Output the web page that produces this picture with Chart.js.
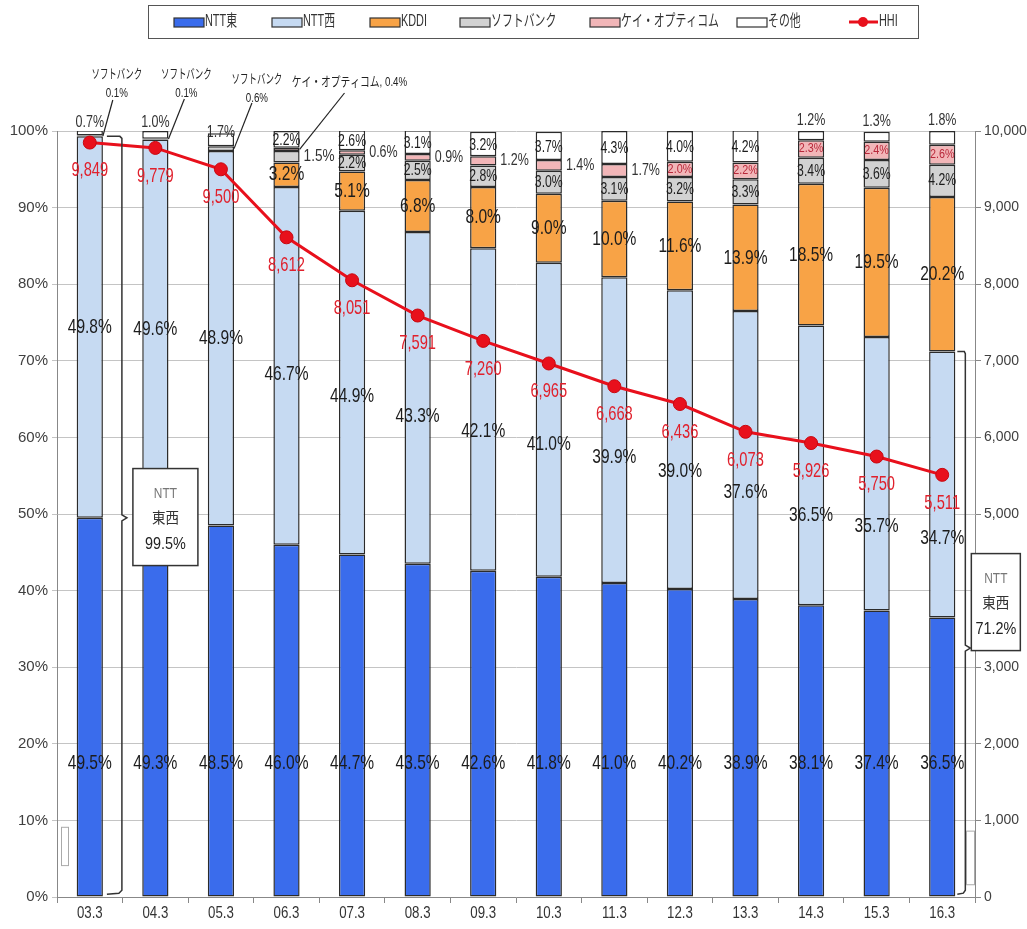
<!DOCTYPE html>
<html>
<head>
<meta charset="utf-8">
<script src="https://cdn.jsdelivr.net/npm/chart.js@4.4.1/dist/chart.umd.min.js"></script>
<style>
html, body { margin: 0; padding: 0; background: #fff; }
#wrap { width: 1027px; height: 929px; }
</style>
</head>
<body>
<div id="wrap"><canvas id="chartHHI"></canvas></div>
<script>
const categories = ['03.3', '04.3', '05.3', '06.3', '07.3', '08.3', '09.3', '10.3', '11.3', '12.3', '13.3', '14.3', '15.3', '16.3'];
const nttEast  = [49.5, 49.3, 48.5, 46.0, 44.7, 43.5, 42.6, 41.8, 41.0, 40.2, 38.9, 38.1, 37.4, 36.5];
const nttWest  = [49.8, 49.6, 48.9, 46.7, 44.9, 43.3, 42.1, 41.0, 39.9, 39.0, 37.6, 36.5, 35.7, 34.7];
const kddi     = [0, 0, 0, 3.2, 5.1, 6.8, 8.0, 9.0, 10.0, 11.6, 13.9, 18.5, 19.5, 20.2];
const softbank = [0.1, 0.1, 0.6, 1.5, 2.2, 2.5, 2.8, 3.0, 3.1, 3.2, 3.3, 3.4, 3.6, 4.2];
const optage   = [0, 0, 0, 0.4, 0.6, 0.9, 1.2, 1.4, 1.7, 2.0, 2.2, 2.3, 2.4, 2.6];
const others   = [0.7, 1.0, 1.7, 2.2, 2.6, 3.1, 3.2, 3.7, 4.3, 4.0, 4.2, 1.2, 1.3, 1.8];
const hhi      = [9849, 9779, 9500, 8612, 8051, 7591, 7260, 6965, 6668, 6436, 6073, 5926, 5750, 5511];
const nttTotals = ['99.5%', '71.2%'];

const FONT = '"Liberation Sans", "Noto Sans CJK JP", sans-serif';
const pct = v => v.toFixed(1) + '%';

function txt(ctx, s, x, y, size, color, sx, align) {
    ctx.save();
    ctx.font = size + 'px ' + FONT;
    ctx.fillStyle = color;
    ctx.textAlign = align || 'center';
    ctx.textBaseline = 'middle';
    ctx.translate(x, y);
    ctx.scale(sx || 1, 1);
    ctx.fillText(s, 0, 0);
    ctx.restore();
}

function line(ctx, pts, w, color) {
    ctx.save();
    ctx.strokeStyle = color || '#222';
    ctx.lineWidth = w || 1;
    ctx.beginPath();
    ctx.moveTo(pts[0][0], pts[0][1]);
    for (let k = 1; k < pts.length; k++) ctx.lineTo(pts[k][0], pts[k][1]);
    ctx.stroke();
    ctx.restore();
}

const overlay = {
    id: 'overlay',
    afterDraw(chart) {
        const ctx = chart.ctx;
        const ys = chart.scales.y, y1 = chart.scales.y1, xs = chart.scales.x;
        const seg = (d, i) => {
            const b = chart.getDatasetMeta(d).data[i];
            return { x: b.x, top: Math.min(b.y, b.base), bot: Math.max(b.y, b.base), mid: (b.y + b.base) / 2, half: b.width / 2 };
        };
        const dark = '#1c1c1c';

        categories.forEach((c, i) => {
            const cx = xs.getPixelForValue(i);
            // x labels
            txt(ctx, c, cx, chart.chartArea.bottom + 16, 17, '#333', 0.78);
            // NTT east / west
            txt(ctx, pct(nttEast[i]), cx, ys.getPixelForValue(Math.min(nttEast[i] / 2, 17.5)), 21, dark, 0.74);
            txt(ctx, pct(nttWest[i]), cx, ys.getPixelForValue(nttEast[i] + nttWest[i] / 2 - 0.35 * kddi[i]), 21, dark, 0.74);
            // KDDI
            if (kddi[i] > 0) {
                const s = seg(2, i);
                txt(ctx, pct(kddi[i]), cx, s.mid, 21, dark, 0.74);
            }
            // SoftBank
            if (i === 3) {
                const s = seg(3, i);
                txt(ctx, pct(softbank[i]), cx + s.half + 4, s.mid, 17, '#333', 0.8, 'left');
            } else if (i > 3) {
                const s = seg(3, i);
                txt(ctx, pct(softbank[i]), cx, s.mid, 17, dark, 0.72);
            }
            // K-Opticom
            if (i >= 4 && i <= 8) {
                const s = seg(4, i);
                txt(ctx, pct(optage[i]), cx + s.half + 4, s.mid, 16, '#333', 0.78, 'left');
            } else if (i >= 9) {
                const s = seg(4, i);
                txt(ctx, pct(optage[i]), cx, s.mid, 12, '#b8283a', 0.9);
            }
            // others
            const so = seg(5, i);
            if (i <= 2) {
                txt(ctx, pct(others[i]), cx, so.top - (i === 2 ? 1 : 8), 16, '#333', 0.78);
            } else if (i >= 11) {
                txt(ctx, pct(others[i]), cx, so.top - 10, 16, '#333', 0.78);
            } else {
                txt(ctx, pct(others[i]), cx, so.mid + 1, 17, dark, 0.72);
            }
            // HHI
            txt(ctx, hhi[i].toLocaleString('en-US'), cx, y1.getPixelForValue(hhi[i]) + 28, 21, '#e0202c', 0.7);
        });

        // callouts for tiny shares
        const callout = (d, i, name, val, dx, ty, lx, ly) => {
            const s = seg(d, i);
            const cx = xs.getPixelForValue(i);
            if (val !== null) {
                txt(ctx, name, cx + dx, ty, 13, '#222', 0.65);
                txt(ctx, val, cx + dx, ty + 19, 13, '#222', 0.75);
            } else {
                txt(ctx, name, cx + dx, ty, 13, '#222', 0.75);
            }
            line(ctx, [[cx + lx, ly], [cx + s.half, s.mid]], 1.2, '#222');
        };
        callout(3, 0, 'ソフトバンク', pct(softbank[0]), 27, 74, 23, 100);
        callout(3, 1, 'ソフトバンク', pct(softbank[1]), 31, 74, 29, 99);
        callout(3, 2, 'ソフトバンク', pct(softbank[2]), 36, 79, 31, 103);
        callout(4, 3, 'ケイ・オプティコム, ' + pct(optage[3]), null, 63, 82, 58, 93);

        // left bracket (NTT east+west 03.3)
        const b0 = seg(1, 0);
        const lx = xs.getPixelForValue(0) + b0.half + 19;
        const lt = ys.getPixelForValue(nttEast[0] + nttWest[0]);
        const lb = ys.getPixelForValue(0.5);
        const lm = ys.getPixelForValue(49.5);
        line(ctx, [[lx - 15, lt], [lx - 2, lt], [lx, lt + 2], [lx, lm - 3], [lx + 5, lm], [lx, lm + 3], [lx, lb - 3], [lx - 3, lb], [lx - 15, lb + 1]], 1.5, '#333');
        drawBox(ctx, lx + 11, ys.getPixelForValue(49.6), 65, 97, nttTotals[0]);

        // right bracket (16.3)
        const b13 = seg(1, 13);
        const rx = xs.getPixelForValue(13) + b13.half + 10;
        const rt = ys.getPixelForValue(nttEast[13] + nttWest[13]);
        const rb = ys.getPixelForValue(0.5);
        const rm = ys.getPixelForValue(32.5);
        line(ctx, [[rx - 8, rt], [rx - 1, rt], [rx, rt + 2], [rx, rm - 3], [rx + 5, rm], [rx, rm + 3], [rx, rb - 3], [rx - 2, rb], [rx - 8, rb + 1]], 1.5, '#333');
        drawBox(ctx, rx + 6, ys.getPixelForValue(38.5), 49, 97, nttTotals[1]);

        // small empty frames near the axes
        ctx.save();
        ctx.strokeStyle = '#aaa';
        ctx.lineWidth = 1;
        const ft = ys.getPixelForValue(9.1), fb = ys.getPixelForValue(4.1);
        ctx.strokeRect(61.5, ft, 7, fb - ft);
        const gt = ys.getPixelForValue(8.6), gb = ys.getPixelForValue(1.6);
        ctx.strokeRect(966.5, gt, 8, gb - gt);
        ctx.restore();

        drawLegend(ctx, chart);
    }
};

function drawBox(ctx, left, cy, w, h, total) {
    ctx.save();
    ctx.fillStyle = '#fff';
    ctx.strokeStyle = '#333';
    ctx.lineWidth = 1.5;
    ctx.fillRect(left, cy - h / 2, w, h);
    ctx.strokeRect(left, cy - h / 2, w, h);
    ctx.restore();
    const mx = left + w / 2;
    txt(ctx, 'NTT', mx, cy - 23, 14, '#777', 0.85);
    txt(ctx, '東西', mx, cy + 2, 15, '#333', 0.9);
    txt(ctx, total, mx, cy + 28, 16, '#222', 0.9);
}

function drawLegend(ctx, chart) {
    ctx.save();
    ctx.strokeStyle = '#555';
    ctx.lineWidth = 1;
    ctx.strokeRect(148.5, 5.5, 770, 33);
    ctx.restore();
    const xsw = [174, 272, 370, 460, 590, 737];
    chart.data.datasets.forEach((ds, d) => {
        if (d < 6) {
            ctx.save();
            ctx.fillStyle = ds.backgroundColor;
            ctx.strokeStyle = '#333';
            ctx.lineWidth = 1.2;
            ctx.fillRect(xsw[d], 18, 30, 9);
            ctx.strokeRect(xsw[d], 18, 30, 9);
            ctx.restore();
            txt(ctx, ds.label, xsw[d] + 31, 22, 16, '#333', 0.68, 'left');
        } else {
            line(ctx, [[849, 22], [878, 22]], 3, ds.borderColor);
            ctx.save();
            ctx.fillStyle = ds.borderColor;
            ctx.beginPath();
            ctx.arc(863, 22, 5, 0, Math.PI * 2);
            ctx.fill();
            ctx.restore();
            txt(ctx, ds.label, 879, 22, 16, '#333', 0.68, 'left');
        }
    });
}

const barStyle = (label, data, color) => ({
    type: 'bar',
    label: label,
    data: data,
    backgroundColor: color,
    borderColor: '#2b2b2b',
    borderWidth: ctx => (ctx.raw > 0 ? 1.5 : 0),
    borderSkipped: false,
    stack: 'share',
    yAxisID: 'y',
    order: 1,
    categoryPercentage: 1,
    barPercentage: 0.4
});

let ctxHHI = document.querySelector('#chartHHI').getContext('2d');
let chartHHI = new Chart(ctxHHI, {
    data: {
        labels: categories,
        datasets: [
            barStyle('NTT東', nttEast, '#3a6cec'),
            barStyle('NTT西', nttWest, '#c6daf2'),
            barStyle('KDDI', kddi, '#f8a346'),
            barStyle('ソフトバンク', softbank, '#d2d2d2'),
            barStyle('ケイ・オプティコム', optage, '#f2b6b8'),
            barStyle('その他', others, '#ffffff'),
            {
                type: 'line',
                label: 'HHI',
                data: hhi,
                yAxisID: 'y1',
                order: 0,
                borderColor: '#e8101c',
                backgroundColor: '#e8101c',
                borderWidth: 3,
                pointRadius: 6.5,
                pointBackgroundColor: '#e8101c',
                pointBorderColor: '#c80810',
                pointBorderWidth: 1,
                tension: 0
            }
        ]
    },
    options: {
        responsive: true,
        maintainAspectRatio: false,
        animation: false,
        plugins: {
            legend: { display: false },
            tooltip: { enabled: false }
        },
        layout: {
            padding: { top: 131, bottom: 0, left: 0, right: 0 }
        },
        scales: {
            x: {
                stacked: true,
                offset: true,
                grid: { display: true, drawOnChartArea: false, drawTicks: true, tickLength: 6, color: '#888', offset: true },
                border: { color: '#888' },
                ticks: { color: 'rgba(0,0,0,0)', font: { size: 14, family: FONT } },
                afterFit: s => { s.height = 32; }
            },
            y: {
                stacked: true,
                min: 0,
                max: 100,
                position: 'left',
                ticks: {
                    stepSize: 10,
                    callback: v => v + '%',
                    color: '#404040',
                    font: { size: 15, family: FONT },
                    padding: 4
                },
                grid: { color: '#c4c4c4', tickLength: 5 },
                border: { color: '#888' },
                afterFit: s => { s.width = 57; }
            },
            y1: {
                min: 0,
                max: 10000,
                position: 'right',
                ticks: {
                    stepSize: 1000,
                    callback: v => v.toLocaleString('en-US'),
                    color: '#404040',
                    font: { size: 14, family: FONT },
                    padding: 3
                },
                grid: { drawOnChartArea: false, tickLength: 6, color: '#888' },
                border: { color: '#888' },
                afterFit: s => { s.width = 52; }
            }
        }
    },
    plugins: [overlay]
});
</script>
</body>
</html>
